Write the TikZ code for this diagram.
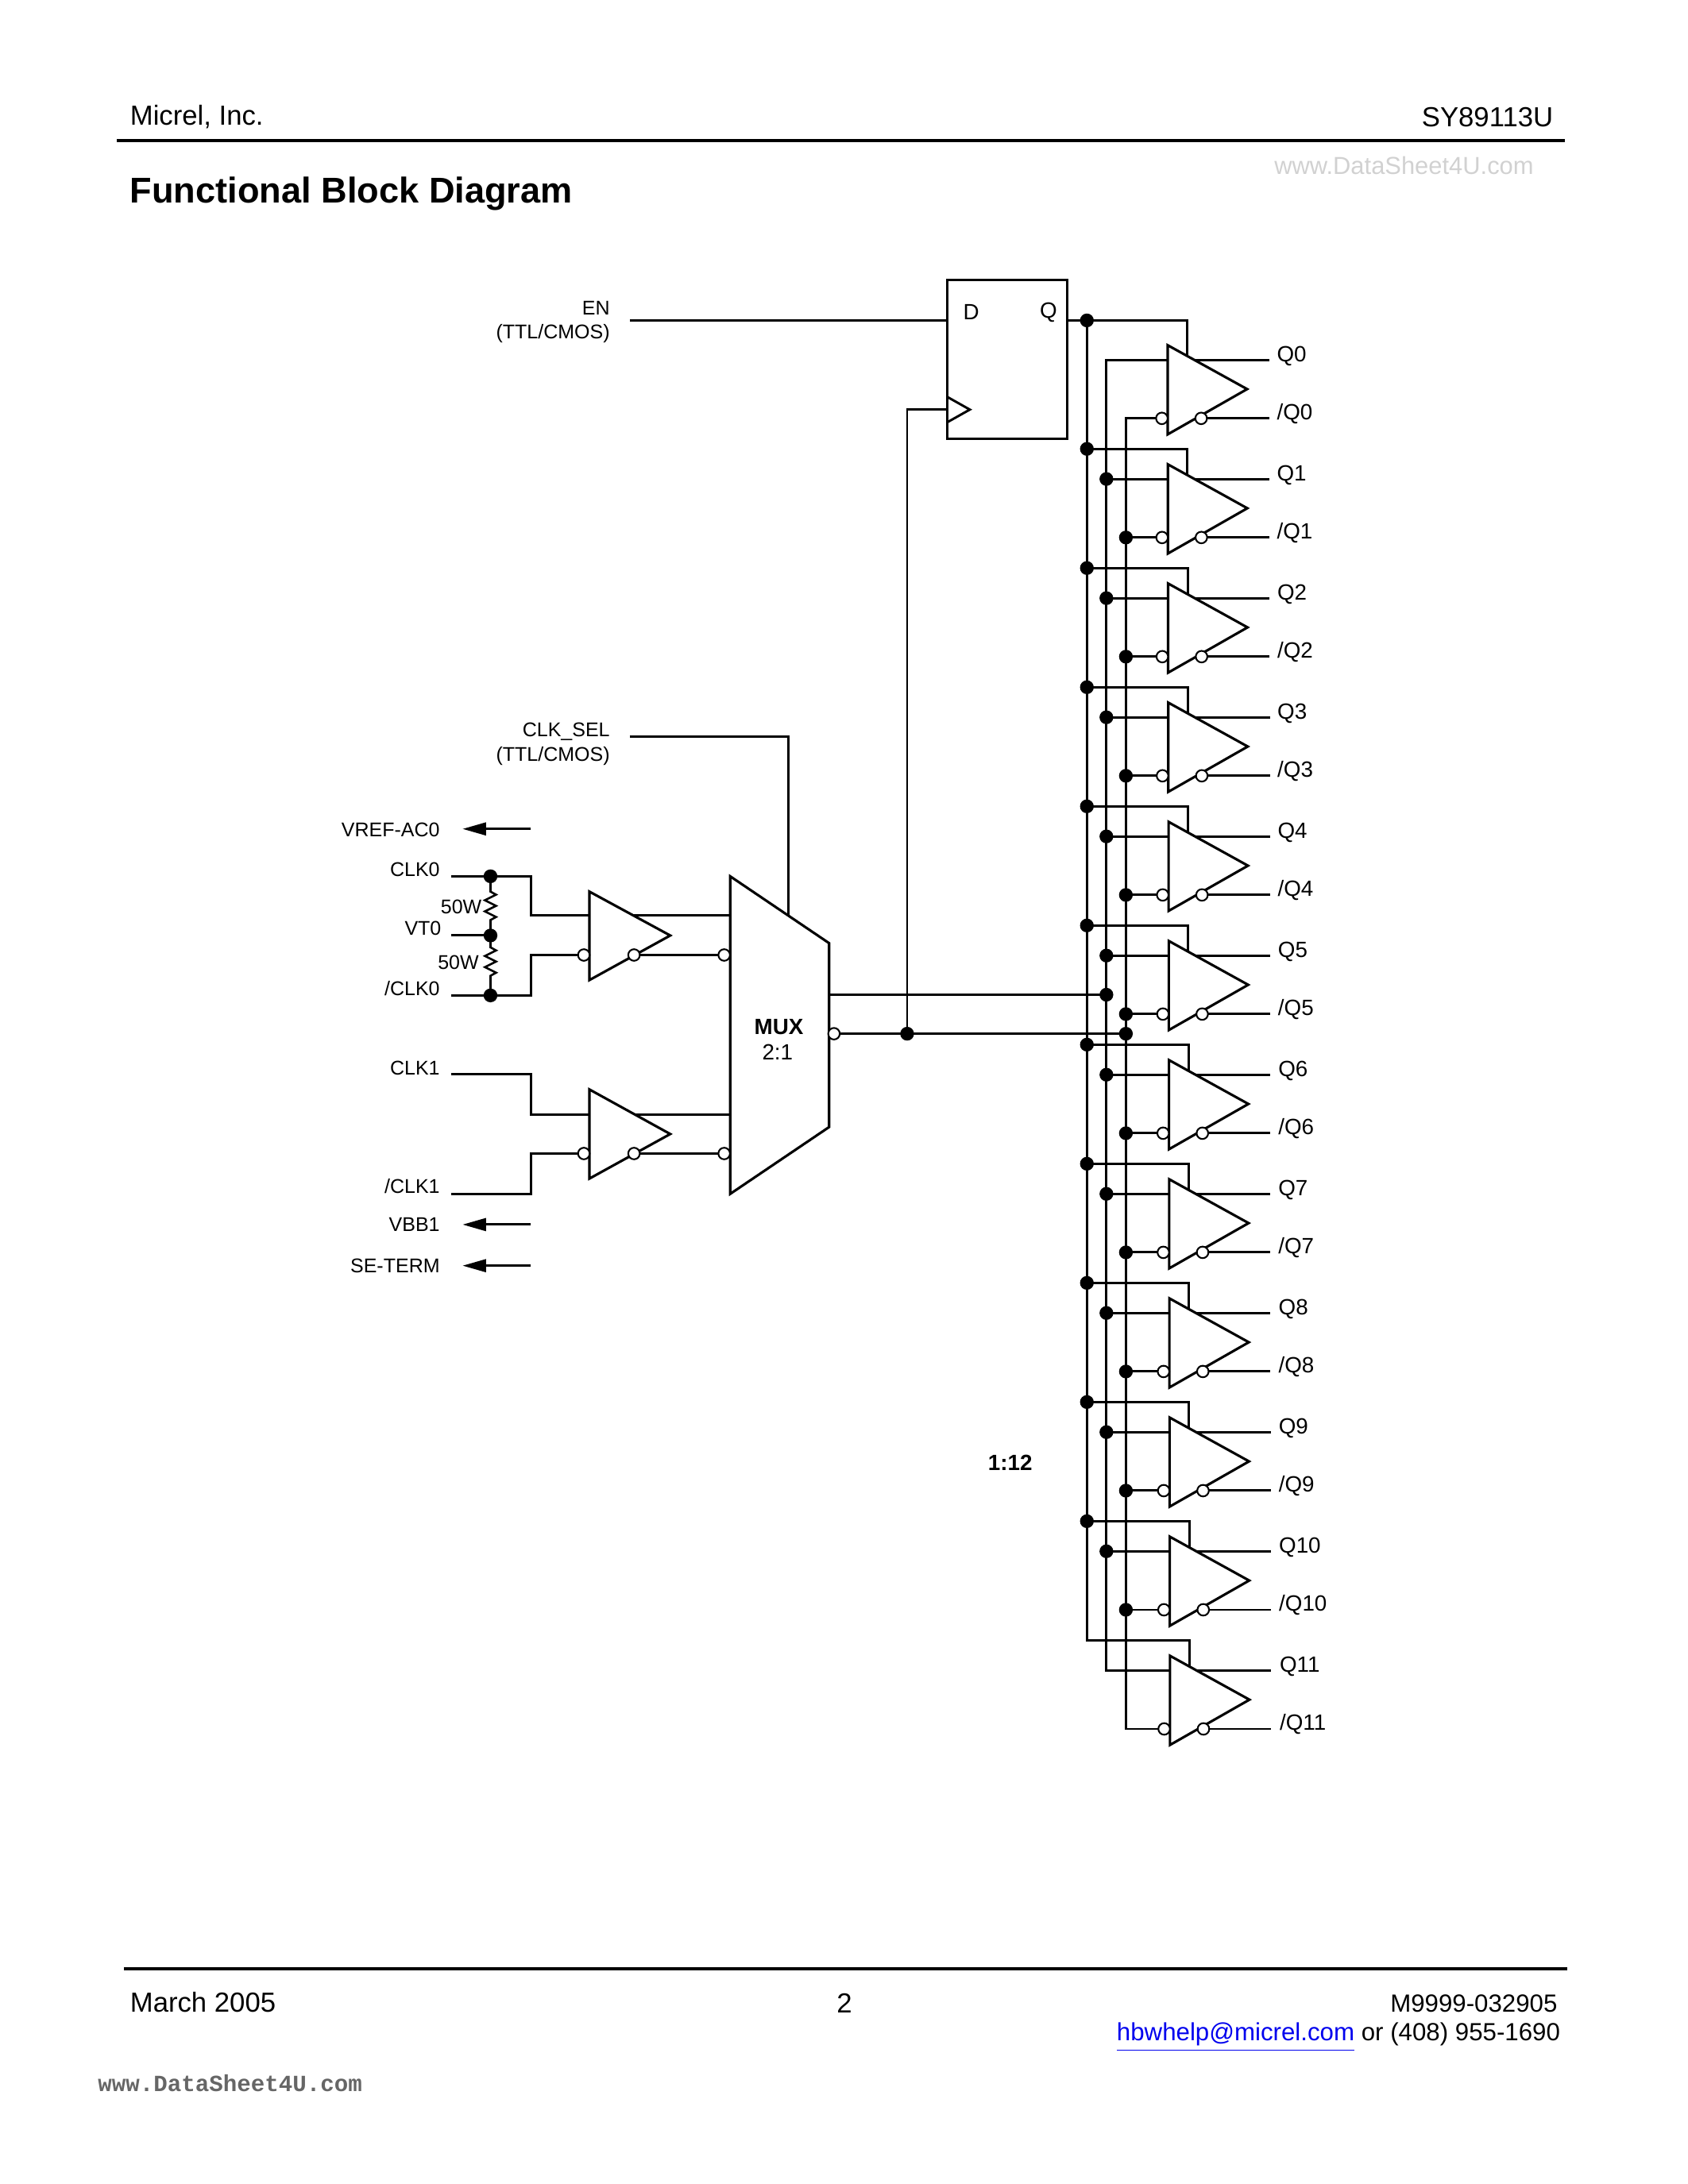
\documentclass[tikz,border=0pt]{standalone}
\usepackage{fontspec}
\setmainfont{Liberation Sans}
\newfontfamily\wmfont{Liberation Mono}
\usetikzlibrary{arrows.meta,calc}
\definecolor{linkblue}{RGB}{0,0,238}
\tikzset{
  wire/.style={line width=0.85pt,line cap=butt,line join=miter},
  gatebody/.style={draw,fill=white,line width=0.9pt,line join=miter},
  dotj/.style={circle,fill=black,inner sep=0pt,minimum size=5pt},
  bub/.style={circle,draw,fill=white,line width=0.6pt,inner sep=0pt,minimum size=4.2pt},
  lab/.style={inner sep=0pt,font=\fontsize{7.2}{8}\selectfont},
  qlab/.style={inner sep=0pt,anchor=mid west,font=\fontsize{8}{9}\selectfont},
  pagetext/.style={inner sep=0pt,font=\fontsize{10}{12}\selectfont},
  foot/.style={inner sep=0pt,font=\fontsize{9}{11}\selectfont},
  harrow/.style={line width=0.85pt,-{Triangle[length=8.5pt,width=4.6pt]}},
  rule/.style={line width=1.2pt}
}
\begin{document}
\begin{tikzpicture}[x=0.5052pt,y=-0.5052pt]
\useasboundingbox (0pt,0pt) rectangle (612pt,-792pt);
% page furniture
\coordinate (hl) at (84,101); \coordinate (hr) at (1123,101);
\coordinate (fl) at (89,1413); \coordinate (fr) at (1125,1413);
\draw[rule] (hl) -- (hr);
\draw[rule] (fl) -- (fr);
\node[pagetext,anchor=west] (micrel) at (93,84) {Micrel, Inc.};
\node[pagetext,anchor=east] (part) at (1115,84) {SY89113U};
\node[inner sep=0pt,anchor=west,font=\bfseries\fontsize{13}{15}\selectfont] (title) at (93,139) {Functional Block Diagram};
\node[inner sep=0pt,anchor=east,text=black!18,font=\fontsize{8.9}{10}\selectfont] (wm1) at (1101,119) {www.DataSheet4U.com};
\node[inner sep=0pt,anchor=west,text=black!60,font=\wmfont\bfseries\fontsize{8.4}{10}\selectfont] (wm2) at (70,1495.5) {www.DataSheet4U.com};
\node[pagetext,anchor=west] (date) at (93,1437) {March 2005};
\node[pagetext] (pg) at (606,1438) {2};
\node[foot,anchor=east] (doc) at (1118,1438) {M9999-032905};
\node[foot,anchor=base east] (mail) at (1120,1465) {\textcolor{linkblue}{\underline{hbwhelp@micrel.com}} or (408) 955-1690};

% flip flop
\coordinate (ffnw) at (680,201); \coordinate (ffse) at (766,315);
\coordinate (ffd) at (680,230); \coordinate (ffq) at (766,230);
\coordinate (ffck) at (680,294);
% inputs
\node[lab,anchor=east] (en) at (438,221) {EN};
\node[lab,anchor=east] (ent) at (438,239.5) {(TTL/CMOS)};
\node[lab,anchor=east] (sel) at (438,525) {CLK\_SEL};
\node[lab,anchor=east] (selt) at (438,542.5) {(TTL/CMOS)};
\coordinate (enw) at (452,230);
\coordinate (selw) at (452,529);
\coordinate (selc) at (566,529);
\coordinate (selm) at (566,660);
\draw[wire] (enw) -- (ffd);
\draw[wire] (selw) -- (selc) -- (selm);

% bus positions
\coordinate (bus1top) at (780,230);
\coordinate (muxq) at (595,714);
\coordinate (muxnq) at (602,742);
\coordinate (jck) at (651,742);
\coordinate (j2m) at (794,714);
\coordinate (j3m) at (808,742);
\draw[wire] (muxq) -- (j2m);
\draw[wire] (muxnq) -- (j3m);
\draw[wire] (jck) |- (ffck);
\draw[wire] (ffq) -- (852,230) -- (852,258);

% output gates: wires first
\foreach \i in {0,...,11}{
  \pgfmathsetmacro{\qy}{258.3+85.52*\i}
  \pgfmathsetmacro{\ny}{\qy+42}
  \pgfmathsetmacro{\gx}{838+0.15*\i}
  \coordinate (q\i) at (911+0.1*\i,\qy);
  \coordinate (n\i) at (911+0.1*\i,\ny);
  \coordinate (bq\i) at (794,\qy);
  \coordinate (bn\i) at (808,\ny);
  \coordinate (gq\i) at (\gx,\qy);
  \coordinate (gn\i) at (\gx-8,\ny);
  \coordinate (st\i) at (852+0.15*\i,\qy-21.6);
  \coordinate (sb\i) at (852+0.15*\i,\qy);
  \coordinate (bt\i) at (780,\qy-21.6);
  \coordinate (ot\i) at (\gx+23,\ny);
  \draw[wire] (bq\i) -- (q\i);
  \draw[wire] (bn\i) -- (gn\i);
  \draw[wire] (ot\i) -- (n\i);
  \ifnum\i>0 \draw[wire] (bt\i) -- (st\i) -- (sb\i); \fi
}
\draw[wire,line cap=rect] (bus1top) -- (bt11);
\draw[wire,line cap=rect] (bq0) -- (bq11);
\draw[wire,line cap=rect] (bn0) -- (bn11);
% output gates: bodies, bubbles, labels
\foreach \i/\lx in {0/916,1/916,2/916.3,3/916.4,4/916.6,5/916.8,6/917,7/917,8/917.2,9/917.3,10/917.5,11/918}{
  \pgfmathsetmacro{\qy}{258.3+85.52*\i}
  \pgfmathsetmacro{\ny}{\qy+42}
  \pgfmathsetmacro{\gx}{838+0.15*\i}
  \coordinate (ga\i) at (\gx,\qy-10.5);
  \coordinate (gb\i) at (\gx+57,\qy+21);
  \coordinate (gc\i) at (\gx,\qy+53.5);
  \draw[gatebody] (ga\i) -- (gb\i) -- (gc\i) -- cycle;
  \node[bub] (bi\i) at (\gx-4.2,\ny) {};
  \node[bub] (bo\i) at (\gx+24,\ny) {};
  \node[qlab] (lq\i) at (\lx,\qy-4) {Q\i};
  \node[qlab] (ln\i) at (\lx,\ny-4.5) {/Q\i};
  \ifnum\i>0
    \ifnum\i<11
      \node[dotj] (d1\i) at (bt\i) {};
      \node[dotj] (d2\i) at (bq\i) {};
      \node[dotj] (d3\i) at (bn\i) {};
    \fi
  \fi
}
\node[dotj] (dq) at (bus1top) {};
\node[dotj] (d2m) at (j2m) {};
\node[dotj] (d3m) at (j3m) {};
\node[dotj] (dck) at (jck) {};
% ff box
\draw[gatebody,fill=none] (ffnw) rectangle (ffse);
\coordinate (cka) at (680,285); \coordinate (ckb) at (696,294); \coordinate (ckc) at (680,303);
\draw[wire] (cka) -- (ckb) -- (ckc);
\node[inner sep=0pt,font=\fontsize{8}{9}\selectfont] (ffdl) at (697,224) {D};
\node[inner sep=0pt,font=\fontsize{8}{9}\selectfont] (ffql) at (752.5,224) {Q};

% left inputs
\coordinate (c0) at (324,629); \coordinate (vt) at (324,671.5); \coordinate (nc0) at (324,714.5);
\coordinate (c1) at (324,771); \coordinate (nc1) at (324,857);
\coordinate (j0) at (352,629); \coordinate (jv) at (352,671.5); \coordinate (jn) at (352,714.5);
\coordinate (m0q) at (524,657); \coordinate (m0n) at (516,685.5);
\coordinate (m1q) at (524,800); \coordinate (m1n) at (516,828);
\draw[wire] (c0) -- (381,629) -- (381,657) -- (m0q);
\draw[wire] (nc0) -- (381,714.5) -- (381,685.5) -- (415,685.5);
\draw[wire] (455,685.5) -- (m0n);
\draw[wire] (vt) -- (jv);
\draw[wire] (c1) -- (381,771) -- (381,800) -- (m1q);
\draw[wire] (nc1) -- (381,857) -- (381,828) -- (415,828);
\draw[wire] (455,828) -- (m1n);
% resistors
\draw[line width=0.75pt,line join=miter] (j0) -- (352,640) -- ++(4,2.2) -- ++(-8,4) -- ++(8,4) -- ++(-8,4) -- ++(8,4) -- ++(-4,2.2) -- (jv);
\draw[line width=0.75pt,line join=miter] (jv) -- (352,680) -- ++(4,2.2) -- ++(-8,4) -- ++(8,4) -- ++(-8,4) -- ++(8,4) -- ++(-4,2.2) -- (jn);
\node[dotj] (dj0) at (j0) {};
\node[dotj] (djv) at (jv) {};
\node[dotj] (djn) at (jn) {};
\node[lab,anchor=east] (r1) at (346,651) {50W};
\node[lab,anchor=east] (r2) at (344,691) {50W};
% input gates
\draw[gatebody] (423,640) -- (481,671.5) -- (423,703.5) -- cycle;
\draw[gatebody] (423,782) -- (481,814) -- (423,846) -- cycle;
\node[bub] (b01) at (419,685.5) {};
\node[bub] (b02) at (455,685.5) {};
\node[bub] (b11) at (419,828) {};
\node[bub] (b12) at (455,828) {};
% mux
\coordinate (ma) at (524,629); \coordinate (mb) at (595,677); \coordinate (mc) at (595,809); \coordinate (md) at (524,857);
\draw[gatebody] (ma) -- (mb) -- (mc) -- (md) -- cycle;
\node[bub] (b03) at (519.7,685.5) {};
\node[bub] (b13) at (519.7,828) {};
\node[bub] (bmo) at (598.5,742) {};
\node[inner sep=0pt,font=\bfseries\fontsize{8}{9}\selectfont] (muxt) at (559,737) {MUX};
\node[inner sep=0pt,font=\fontsize{8}{9}\selectfont] (muxr) at (558,755) {2:1};
\node[inner sep=0pt,font=\bfseries\fontsize{8}{9}\selectfont] (ratio) at (725,1050) {1:12};
% left labels
\node[lab,anchor=east] (lref) at (316,595.5) {VREF-AC0};
\node[lab,anchor=east] (lc0) at (316,624) {CLK0};
\node[lab,anchor=east] (lv) at (317,666.5) {VT0};
\node[lab,anchor=east] (ln0) at (316,709.5) {/CLK0};
\node[lab,anchor=east] (lc1) at (316,766.5) {CLK1};
\node[lab,anchor=east] (ln1) at (316,851.5) {/CLK1};
\node[lab,anchor=east] (lbb) at (316,879) {VBB1};
\node[lab,anchor=east] (lse) at (316,908.5) {SE-TERM};
\coordinate (a1s) at (381,595); \coordinate (a1e) at (332,595);
\coordinate (a2s) at (381,879); \coordinate (a2e) at (332,879);
\coordinate (a3s) at (381,908.5); \coordinate (a3e) at (332,908.5);
\draw[harrow] (a1s) -- (a1e);
\draw[harrow] (a2s) -- (a2e);
\draw[harrow] (a3s) -- (a3e);
\end{tikzpicture}
\end{document}
